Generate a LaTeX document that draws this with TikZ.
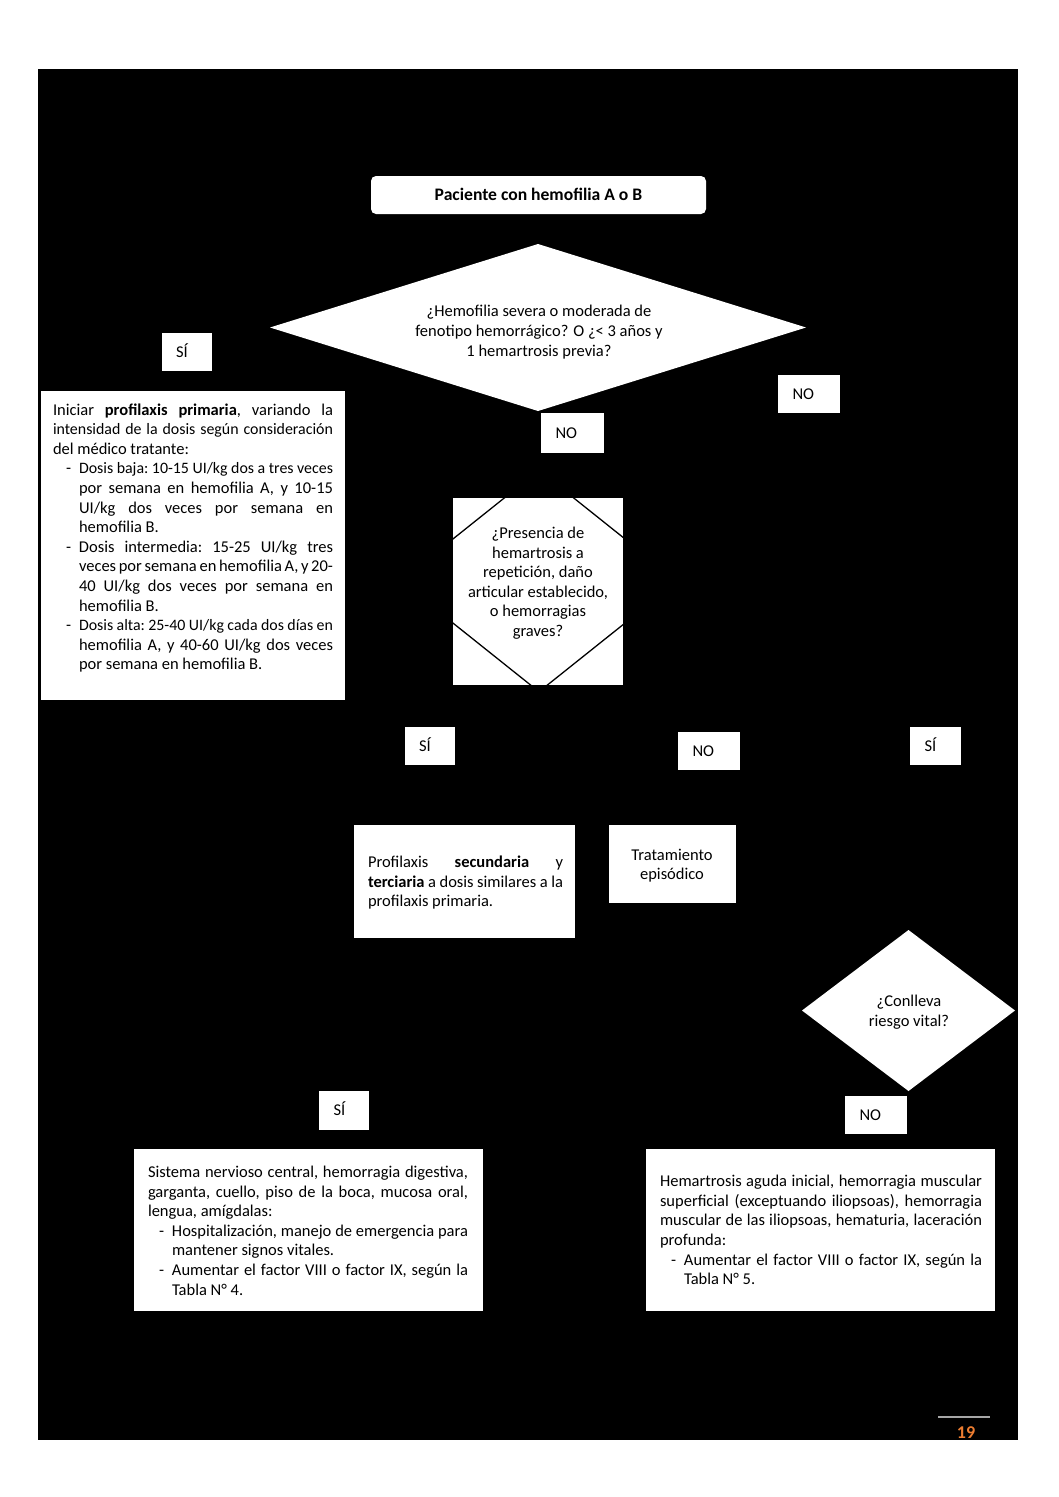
\documentclass[tikz,border=0pt]{standalone}
\usepackage{fontspec}
\setmainfont{Carlito}
\usetikzlibrary{shapes.geometric}
\definecolor{pgorange}{RGB}{237,125,49}
\newcommand\jline[2][0pt]{\hbox to \hsize{\strut\hspace*{#1}#2}}
\newcommand\lline[2][0pt]{\hbox to \hsize{\strut\hspace*{#1}#2\hfil}}
\newcommand\dsh[2]{\hspace*{#1}\makebox[#2][l]{-}}
\newcommand\sskip{\frenchspacing\spaceskip=0.226em plus 0.8em minus 0.12em\relax}
\newcommand\tight{\fontsize{15.9}{19.6}\selectfont\sskip}
\begin{document}
\begin{tikzpicture}[x=1pt,y=-1pt,
  wbox/.style={fill=white,draw=none,inner sep=0pt,outer sep=0pt,anchor=north west},
  txt/.style={inner sep=0pt,outer sep=0pt,font=\fontsize{16.5}{19.6}\selectfont},
  ctxt/.style={txt,align=center},
  jtxt/.style={txt,anchor=north west},
  lbl/.style={txt,anchor=west},
  wdiam/.style={diamond,fill=white,draw=none,inner sep=0pt,outer sep=0pt}
]
\useasboundingbox (0,0) rectangle (1058,1497);
\fill[white] (0,0) rectangle (1058,1497);
\fill[black] (38,69) rectangle (1018,1440);

% start
\node[wbox,rounded corners=5pt,minimum width=335,minimum height=38] (start) at (371,176) {};
\node[ctxt,font=\bfseries\fontsize{17.6}{19.6}\selectfont] (startt) at (538.5,196.8) {\strut Paciente con hemofilia A o B\strut};

% decision 1
\node[wdiam,minimum width=536,minimum height=167] (d1) at (538,327.5) {};
\node[ctxt] (d1t) at (539,332.6) {\strut¿Hemofilia severa o moderada de\\fenotipo hemorrágico? O ¿< 3 años y\\1 hemartrosis previa?\strut};

% labels
\node[wbox,minimum width=50,minimum height=38] (si1) at (162,333) {};
\node[lbl] (si1t) at (176,354) {\strut SÍ};
\node[wbox,minimum width=62,minimum height=38] (noR) at (778,375) {};
\node[lbl] (noRt) at (792.5,396) {\strut NO};
\node[wbox,minimum width=63,minimum height=40] (no1) at (541,413) {};
\node[lbl] (no1t) at (555.5,435) {\strut NO};

% primary prophylaxis box
\node[wbox,minimum width=304,minimum height=309] (prim) at (41,391) {};
\node[jtxt,text width=280] (primt) at (53,401.3) {\sskip
\jline{Iniciar \textbf{profilaxis primaria}, variando la}
\jline{\tight intensidad de la dosis según consideración}
\lline{del médico tratante:}
\jline{\dsh{13pt}{13pt}\tight Dosis baja: 10-15 UI/kg dos a tres veces}
\jline[26pt]{por semana en hemofilia A, y 10-15}
\jline[26pt]{UI/kg dos veces por semana en}
\lline[26pt]{hemofilia B.}
\jline{\dsh{13pt}{13pt}Dosis intermedia: 15-25 UI/kg tres}
\jline[26pt]{veces por semana en hemofilia A, y 20-}
\jline[26pt]{40 UI/kg dos veces por semana en}
\lline[26pt]{hemofilia B.}
\jline{\dsh{13pt}{13pt}\tight Dosis alta: 25-40 UI/kg cada dos días en}
\jline[26pt]{hemofilia A, y 40-60 UI/kg dos veces}
\lline[26pt]{por semana en hemofilia B.}};

% decision 2
\node[wbox,minimum width=170,minimum height=187] (d2box) at (453,498) {};
\begin{scope}
\clip (453,498) rectangle (623,685);
\node[diamond,draw=black,line width=1.3pt,inner sep=0pt,minimum width=278,minimum height=222] (d2) at (539,581) {};
\end{scope}
\node[ctxt] (d2t) at (538,583.6) {\strut¿Presencia de\\hemartrosis a\\repetición, daño\\articular establecido,\\o hemorragias\\graves?\strut};

\node[wbox,minimum width=50,minimum height=38] (si2) at (405,727) {};
\node[lbl] (si2t) at (419,748) {\strut SÍ};
\node[wbox,minimum width=62,minimum height=38] (no2) at (678,732) {};
\node[lbl] (no2t) at (692.5,753) {\strut NO};
\node[wbox,minimum width=51,minimum height=38] (si3) at (910,727) {};
\node[lbl] (si3t) at (924.5,748) {\strut SÍ};

% secondary box
\node[wbox,minimum width=221,minimum height=113] (sec) at (354,825) {};
\node[jtxt,text width=195] (sect) at (368,854) {\sskip
\jline{Profilaxis \textbf{secundaria} y}
\jline{\textbf{terciaria} a dosis similares a la}
\lline{profilaxis primaria.}};

% episodic
\node[wbox,minimum width=127,minimum height=78] (epi) at (609,825) {};
\node[ctxt] (epit) at (672,866) {\strut Tratamiento\\episódico\strut};

% decision 3
\node[wdiam,minimum width=213,minimum height=161] (d3) at (908.5,1010.5) {};
\node[ctxt] (d3t) at (909,1012.6) {\strut¿Conlleva\\riesgo vital?\strut};

\node[wbox,minimum width=62,minimum height=38] (no3) at (845,1096) {};
\node[lbl] (no3t) at (859.5,1117) {\strut NO};
\node[wbox,minimum width=50,minimum height=39] (si4) at (319,1091) {};
\node[lbl] (si4t) at (333.5,1112) {\strut SÍ};

% bottom left
\node[wbox,minimum width=349,minimum height=162] (bl) at (134,1149) {};
\node[jtxt,text width=320] (blt) at (148,1163.8) {\sskip
\jline{Sistema nervioso central, hemorragia digestiva,}
\jline{garganta, cuello, piso de la boca, mucosa oral,}
\lline{lengua, amígdalas:}
\jline{\dsh{11pt}{13pt}Hospitalización, manejo de emergencia para}
\lline[24pt]{mantener signos vitales.}
\jline{\dsh{11pt}{13pt}Aumentar el factor VIII o factor IX, según la}
\lline[24pt]{Tabla N° 4.}};

% bottom right
\node[wbox,minimum width=349,minimum height=162] (br) at (646,1149) {};
\node[jtxt,text width=322] (brt) at (660,1173) {\sskip
\jline{Hemartrosis aguda inicial, hemorragia muscular}
\jline{superficial (exceptuando iliopsoas), hemorragia}
\jline{muscular de las iliopsoas, hematuria, laceración}
\lline{profunda:}
\jline{\dsh{11pt}{13pt}Aumentar el factor VIII o factor IX, según la}
\lline[24pt]{Tabla N° 5.}};

% page number
\coordinate (pgl1) at (938,1417);
\coordinate (pgl2) at (990,1417);
\draw[gray!70,line width=1.2pt] (pgl1) -- (pgl2);
\node[inner sep=0pt,font=\bfseries\fontsize{18}{20}\selectfont,text=pgorange] (pg) at (966,1433) {19};
\end{tikzpicture}
\end{document}
